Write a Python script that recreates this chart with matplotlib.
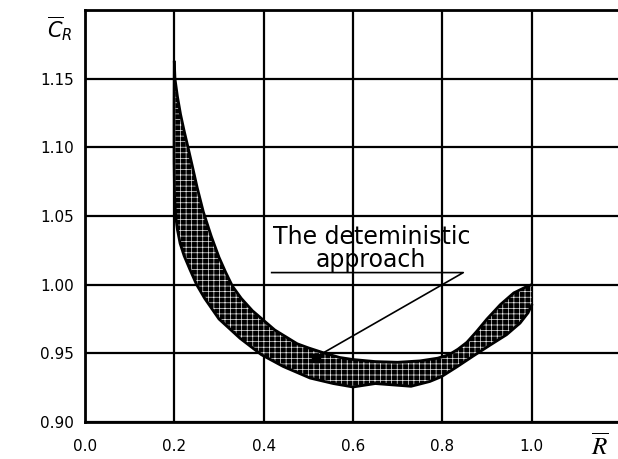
import matplotlib
matplotlib.use('Agg')
import matplotlib.pyplot as plt

# band edges (R, C_R)
r_upper = [0.200, 0.2015, 0.207, 0.214, 0.222, 0.230, 0.242, 0.251, 0.265, 0.283, 0.300,
           0.315, 0.330, 0.350, 0.375, 0.400, 0.425, 0.450, 0.475, 0.500, 0.533, 0.570,
           0.600, 0.650, 0.700, 0.750, 0.790, 0.815, 0.835, 0.855, 0.877, 0.900, 0.930,
           0.960, 0.985, 1.000]
c_upper = [1.162, 1.150, 1.137, 1.124, 1.112, 1.101, 1.084, 1.071, 1.053, 1.035, 1.020,
           1.009, 0.999, 0.990, 0.981, 0.974, 0.967, 0.962, 0.957, 0.954, 0.9505, 0.947,
           0.9455, 0.944, 0.9435, 0.9445, 0.9465, 0.949, 0.953, 0.958, 0.966, 0.975, 0.9855,
           0.994, 0.998, 1.000]

r_lower = [0.200, 0.1995, 0.1995, 0.2005, 0.203, 0.207, 0.213, 0.222, 0.235, 0.250, 0.268,
           0.300, 0.347, 0.395, 0.444, 0.504, 0.556, 0.600, 0.650, 0.690, 0.730, 0.772,
           0.798, 0.832, 0.869, 0.907, 0.944, 0.974, 0.992, 1.000]
c_lower = [1.162, 1.130, 1.090, 1.065, 1.050, 1.040, 1.030, 1.021, 1.011, 1.000, 0.990,
           0.975, 0.961, 0.949, 0.9404, 0.932, 0.928, 0.9255, 0.928, 0.927, 0.926, 0.9295,
           0.933, 0.940, 0.948, 0.956, 0.9636, 0.972, 0.9795, 0.985]

# deterministic solution and its leader line
det_r = 0.518
det_c = 0.9465
leader_r = [0.418, 0.847, 0.537]
leader_c = [1.0088, 1.0088, 0.951]

x_ticks = [0.0, 0.2, 0.4, 0.6, 0.8, 1.0]
x_labels = ['0.0', '0.2', '0.4', '0.6', '0.8', '1.0']
y_ticks = [0.90, 0.95, 1.00, 1.05, 1.10, 1.15]
y_labels = ['0.90', '0.95', '1.00', '1.05', '1.10', '1.15']

plt.rcParams['hatch.linewidth'] = 0.5

fig = plt.figure(figsize=(6.18, 4.59), dpi=100)
ax = fig.add_axes([0.1375, 0.0806, 0.8673, 0.8976])

ax.set_xlim(0, 1.2)
ax.set_ylim(0.90, 1.20)
ax.set_xticks(x_ticks + [1.2])
ax.set_xticklabels(x_labels + [''])
ax.set_yticks(y_ticks + [1.20])
ax.set_yticklabels(y_labels + [''])
ax.tick_params(length=0, labelsize=11, pad=8)
ax.tick_params(axis='x', pad=12)
ax.grid(True, color='black', linewidth=1.6)
ax.set_axisbelow(True)
for s in ax.spines.values():
    s.set_linewidth(2)

# shaded band
band_r = r_upper + r_lower[::-1]
band_c = c_upper + c_lower[::-1]
ax.fill(band_r, band_c, facecolor='black', edgecolor='#e8e8e8', hatch='+++', linewidth=0, zorder=3)
ax.plot(r_upper, c_upper, color='black', lw=2, zorder=4)
ax.plot(r_lower, c_lower, color='black', lw=2, zorder=4)

ax.plot([det_r], [det_c], 's', color='black', markersize=6, zorder=5)
ax.plot(leader_r, leader_c, color='black', lw=1.2, zorder=5)

ax.text(0.642, 1.0294, 'The deteministic', fontsize=17, ha='center', va='baseline', zorder=6)
ax.text(0.641, 1.0126, 'approach', fontsize=17, ha='center', va='baseline', zorder=6)

fig.text(47 / 618, 1 - 37 / 459, r'$\overline{C}_R$', fontsize=15, ha='left', va='baseline')
fig.text(600 / 618, 1 - 455 / 459, r'$\overline{R}$', fontsize=18, ha='center', va='baseline',
         math_fontfamily='stix')

fig.savefig('out.png', dpi=100)
